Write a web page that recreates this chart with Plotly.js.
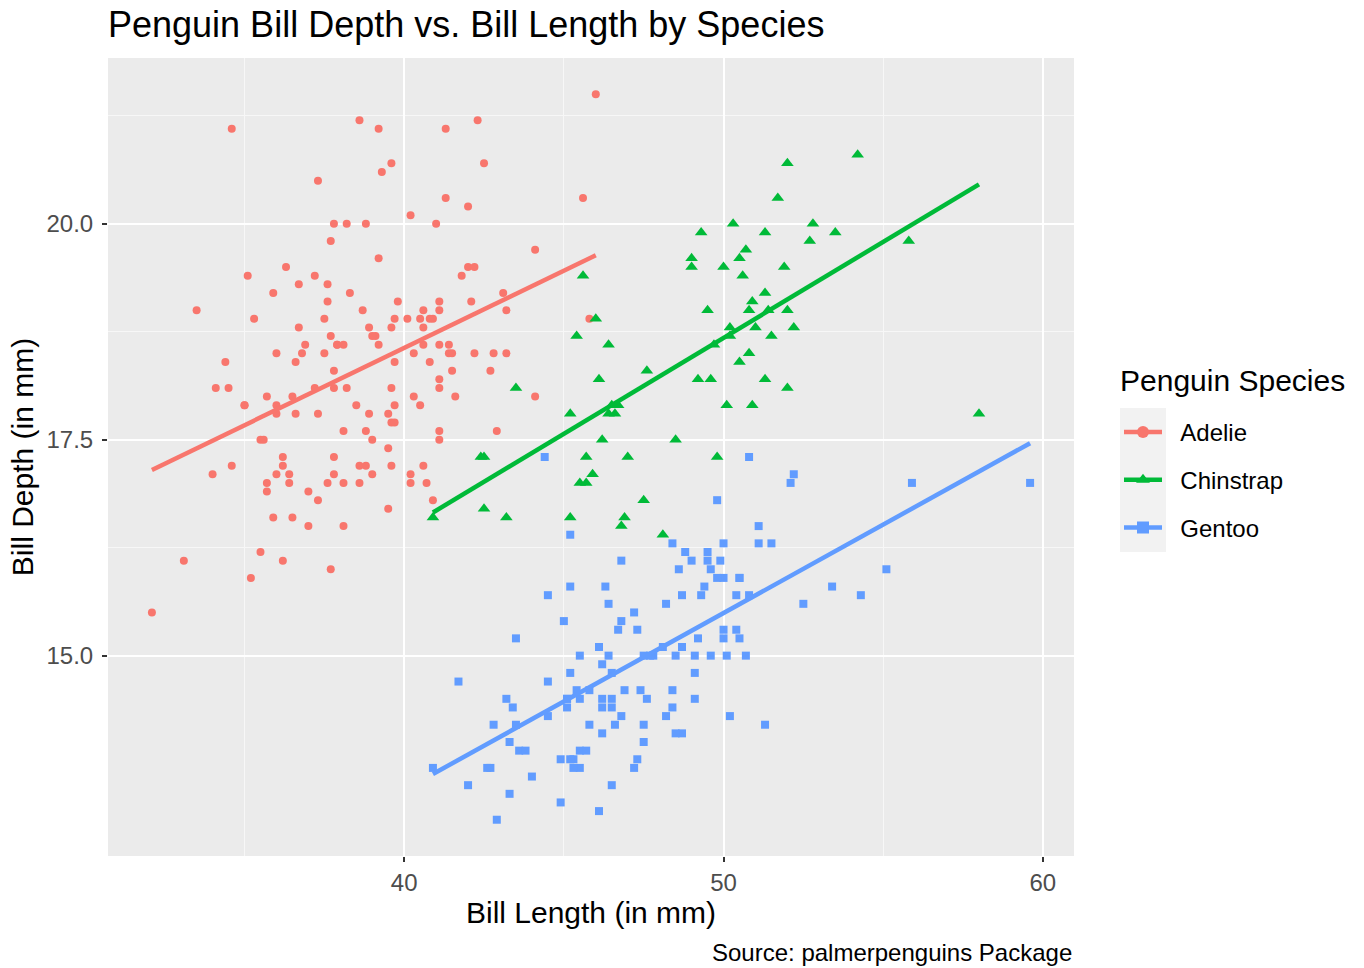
<!DOCTYPE html>
<html>
<head>
<meta charset="utf-8">
<script src="https://cdn.plot.ly/plotly-3.0.1.min.js"></script>
<style>
  html, body { margin: 0; padding: 0; background: #ffffff; }
  #chart { width: 1364px; height: 968px; }
</style>
</head>
<body>
<div id="chart"></div>
<script>
// Palmer penguins: bill length (mm) and bill depth (mm) per species
const speciesNames = ["Adelie", "Chinstrap", "Gentoo"];

const adelieLength = [39.1,39.5,40.3,36.7,39.3,38.9,39.2,34.1,42.0,37.8,37.8,41.1,38.6,34.6,36.6,38.7,42.5,34.4,46.0,37.8,37.7,35.9,38.2,38.8,35.3,40.6,40.5,37.9,40.5,39.5,37.2,39.5,40.9,36.4,39.2,38.8,42.2,37.6,39.8,36.5,40.8,36.0,44.1,37.0,39.6,41.1,37.5,36.0,42.3,39.6,40.1,35.0,42.0,34.5,41.4,39.0,40.6,36.5,37.6,35.7,41.3,37.6,41.1,36.4,41.6,35.5,41.1,35.9,41.8,33.5,39.7,39.6,45.8,35.5,42.8,40.9,37.2,36.2,42.1,34.6,42.9,36.7,35.1,37.3,41.3,36.3,36.9,38.3,38.9,35.7,41.1,34.0,39.6,36.2,40.8,38.1,40.3,33.1,43.2,35.0,41.0,37.7,37.8,37.9,39.7,38.6,38.2,38.1,43.2,38.1,45.6,39.7,42.2,39.6,42.7,38.6,37.3,35.7,41.1,36.2,37.7,40.2,41.4,35.2,40.6,38.8,41.5,39.0,44.1,38.5,43.1,36.8,37.5,38.1,41.1,35.6,40.2,37.0,39.7,40.2,40.6,32.1,40.7,37.3,39.0,39.2,36.6,36.0,37.8,36.0,41.5];
const adelieDepth = [18.7,17.4,18.0,19.3,20.6,17.8,19.6,18.1,20.2,17.1,17.3,17.6,21.2,21.1,17.8,19.0,20.7,18.4,21.5,18.3,18.7,19.2,18.1,17.2,18.9,18.6,17.9,18.6,18.9,16.7,18.1,17.8,18.9,17.0,21.1,20.0,18.5,19.3,19.1,18.0,18.4,18.5,19.7,16.9,18.8,19.0,18.9,17.9,21.2,17.7,18.9,17.9,19.5,18.1,18.6,17.5,18.8,16.6,19.1,16.9,21.1,17.0,18.2,17.1,18.0,16.2,19.1,16.6,19.4,19.0,18.4,17.2,18.9,17.5,18.5,16.8,19.4,16.1,19.1,17.2,17.6,18.8,19.4,17.8,20.3,19.5,18.6,19.2,18.8,18.0,18.1,17.1,18.1,17.3,18.9,18.6,18.5,16.1,18.5,17.9,20.0,16.0,20.0,18.6,18.9,17.2,20.0,17.0,19.0,16.5,20.3,17.7,19.5,20.7,18.3,17.0,20.5,17.0,18.6,17.2,19.8,17.0,18.5,15.9,19.0,17.6,18.3,17.1,18.0,17.9,19.2,18.5,18.5,17.6,17.5,17.5,20.1,16.5,17.9,17.1,17.2,15.5,17.0,16.8,18.7,18.6,18.4,17.8,18.1,17.1,18.5];

const chinstrapLength = [46.5,50.0,51.3,45.4,52.7,45.2,46.1,51.3,46.0,51.3,46.6,51.7,47.0,52.0,45.9,50.5,50.3,58.0,46.4,49.2,42.4,48.5,43.2,50.6,46.7,52.0,50.5,49.5,46.4,52.8,40.9,54.2,42.5,51.0,49.7,47.5,47.6,52.0,46.9,53.5,49.0,46.2,50.9,45.5,50.9,50.8,50.1,49.0,51.5,49.8,48.1,51.4,45.7,50.7,42.5,52.2,45.2,49.3,50.2,45.6,51.9,46.8,45.7,55.8,43.5,49.6,50.8,50.2];
const chinstrapDepth = [17.9,19.5,19.2,18.7,19.8,17.8,18.2,18.2,18.9,19.9,17.8,20.3,17.3,18.1,17.1,19.6,20.0,17.8,18.6,18.2,17.3,17.5,16.6,19.4,17.9,19.0,18.4,19.0,17.8,20.0,16.6,20.8,16.7,18.8,18.6,16.8,18.3,20.7,16.6,19.9,19.5,17.5,19.1,17.0,17.9,18.5,17.9,19.6,18.7,17.3,16.4,19.0,17.3,19.7,17.3,18.8,16.6,19.9,18.8,19.4,19.5,16.5,17.0,19.8,18.1,18.2,19.0,18.7];

const gentooLength = [46.1,50.0,48.7,50.0,47.6,46.5,45.4,46.7,43.3,46.8,40.9,49.0,45.5,48.4,45.8,49.3,42.0,49.2,46.2,48.7,50.2,45.1,46.5,46.3,42.9,46.1,44.5,47.8,48.2,50.0,47.3,42.8,45.1,59.6,49.1,48.4,42.6,44.4,44.0,48.7,42.7,49.6,45.3,49.6,50.5,43.6,45.5,50.5,44.9,45.2,46.6,48.5,45.1,50.1,46.5,45.0,43.8,45.5,43.2,50.4,45.3,46.2,45.7,54.3,45.8,49.8,46.2,49.5,43.5,50.7,47.7,46.4,48.2,46.5,46.4,48.6,47.5,51.1,45.2,45.2,49.1,52.5,47.4,50.0,44.9,50.8,43.4,51.3,47.5,52.1,47.5,52.2,45.5,49.5,44.5,50.8,49.4,46.9,48.4,51.1,48.5,55.9,47.2,49.1,47.3,46.8,41.7,53.4,43.3,48.1,50.5,49.8,43.5,51.5,46.2,55.1,44.5,48.8,47.2,46.8,50.4,45.2,49.9];
const gentooDepth = [13.2,16.3,14.1,15.2,14.5,13.5,14.6,15.3,13.4,15.4,13.7,16.1,13.7,14.6,14.6,15.7,13.5,15.2,14.5,15.1,14.3,14.5,14.5,15.8,13.1,15.1,14.3,15.0,14.3,15.3,15.3,14.2,14.5,17.0,14.8,16.3,13.7,17.3,13.6,15.7,13.7,16.0,13.7,15.0,15.9,13.9,13.9,15.9,13.3,15.8,14.2,14.1,14.4,15.0,14.4,15.4,13.9,15.0,14.5,15.3,13.8,14.9,13.9,15.7,14.2,16.8,14.4,16.2,14.2,15.0,15.0,15.6,15.6,14.8,15.0,16.0,14.2,16.3,13.8,16.4,14.5,15.6,14.6,15.9,13.8,17.3,14.4,14.2,14.0,17.0,15.0,17.1,14.5,16.1,14.7,15.7,15.8,14.6,14.4,16.5,15.0,17.0,15.5,15.0,13.8,16.1,14.7,15.8,14.0,15.1,15.2,15.9,15.2,16.3,14.1,16.0,15.7,16.2,13.7,14.3,15.7,14.8,16.1];

const speciesColors = ["#F8766D", "#00BA38", "#619CFF"];
const speciesSymbols = ["circle", "triangle-up", "square"];

const groups = [
  [adelieLength, adelieDepth],
  [chinstrapLength, chinstrapDepth],
  [gentooLength, gentooDepth]
];

// Least-squares fit of depth on length, evaluated across each species' length range
function fitLine(xs, ys) {
  const n = xs.length;
  const mx = xs.reduce((a, b) => a + b, 0) / n;
  const my = ys.reduce((a, b) => a + b, 0) / n;
  let sxy = 0, sxx = 0;
  for (let i = 0; i < n; i++) {
    sxy += (xs[i] - mx) * (ys[i] - my);
    sxx += (xs[i] - mx) * (xs[i] - mx);
  }
  const slope = sxy / sxx;
  const icpt = my - slope * mx;
  const x0 = Math.min(...xs), x1 = Math.max(...xs);
  return { x: [x0, x1], y: [icpt + slope * x0, icpt + slope * x1] };
}

const traces = [];
groups.forEach((g, i) => {
  traces.push({
    type: "scatter", mode: "markers",
    x: g[0], y: g[1],
    name: speciesNames[i], legendgroup: speciesNames[i], showlegend: false,
    marker: { color: speciesColors[i], symbol: speciesSymbols[i], size: i === 1 ? 11 : 8 },
    hoverinfo: "x+y+name"
  });
});
groups.forEach((g, i) => {
  const f = fitLine(g[0], g[1]);
  traces.push({
    type: "scatter", mode: "lines",
    x: f.x, y: f.y,
    name: speciesNames[i], legendgroup: speciesNames[i], showlegend: false,
    line: { color: speciesColors[i], width: 4.5 },
    hoverinfo: "skip"
  });
});
// Legend keys: the fit line with the species symbol on it
const pad = "\u00A0\u00A0";
groups.forEach((g, i) => {
  traces.push({
    type: "scatter", mode: "lines+markers",
    x: [null], y: [null],
    name: pad + speciesNames[i], legendgroup: speciesNames[i] + "-key", showlegend: true,
    line: { color: speciesColors[i], width: 4.5 },
    marker: { color: speciesColors[i], symbol: speciesSymbols[i], size: 12 }
  });
});

const plotL = 108, plotR = 1074, plotT = 58, plotB = 856;
const px = v => (v - plotL) / (plotR - plotL);
const py = v => (plotB - v) / (plotB - plotT);

const layout = {
  width: 1364, height: 968,
  margin: { l: plotL, r: 1364 - plotR, t: plotT, b: 968 - plotB },
  paper_bgcolor: "#FFFFFF",
  plot_bgcolor: "#EBEBEB",
  font: { family: "Liberation Sans, Arial, sans-serif", color: "#000000" },
  title: {
    text: "Penguin Bill Depth vs. Bill Length by Species",
    font: { size: 36, color: "#000000" },
    x: 0, xanchor: "left", xref: "paper",
    y: 1 - 24 / 968, yanchor: "middle", yref: "container"
  },
  xaxis: {
    range: [30.725, 60.975],
    tickvals: [40, 50, 60], ticktext: ["40", "50", "60"],
    ticks: "outside", ticklen: 5, tickwidth: 2, tickcolor: "#333333",
    tickfont: { size: 24, color: "#4D4D4D" },
    showgrid: true, gridcolor: "#FFFFFF", gridwidth: 2,
    minor: { tickvals: [35, 45, 55], showgrid: true, gridcolor: "#F7F7F7", gridwidth: 1, ticks: "" },
    zeroline: false, showline: false,
    title: { text: "Bill Length (in mm)", font: { size: 30, color: "#000000" }, standoff: 5 }
  },
  yaxis: {
    range: [12.68, 21.92],
    tickvals: [15, 17.5, 20], ticktext: ["15.0", "17.5", "20.0"],
    ticks: "outside", ticklen: 5, tickwidth: 2, tickcolor: "#333333",
    ticklabelstandoff: 4,
    tickfont: { size: 24, color: "#4D4D4D" },
    showgrid: true, gridcolor: "#FFFFFF", gridwidth: 2,
    minor: { tickvals: [16.25, 18.75, 21.25], showgrid: true, gridcolor: "#F7F7F7", gridwidth: 1, ticks: "" },
    zeroline: false, showline: false,
    title: { text: "Bill Depth (in mm)", font: { size: 30, color: "#000000" }, standoff: 3 }
  },
  legend: {
    x: px(1119), xanchor: "left",
    y: py(410), yanchor: "top",
    bgcolor: "rgba(0,0,0,0)",
    font: { size: 24, color: "#000000" },
    tracegroupgap: 13.5,
    itemwidth: 38,
    traceorder: "grouped"
  },
  shapes: [{
    type: "rect", xref: "paper", yref: "paper", layer: "below",
    x0: px(1120), x1: px(1166),
    y0: py(552), y1: py(408),
    fillcolor: "#F2F2F2", line: { width: 0 }
  }],
  annotations: [{
    text: "Penguin Species",
    xref: "paper", yref: "paper",
    x: px(1118), xanchor: "left",
    y: py(380), yanchor: "middle",
    showarrow: false,
    font: { size: 30, color: "#000000" }
  }, {
    text: "Source: palmerpenguins Package",
    xref: "paper", yref: "paper",
    x: 1, xanchor: "right",
    y: py(952), yanchor: "middle",
    showarrow: false,
    font: { size: 24, color: "#000000" }
  }]
};

Plotly.newPlot("chart", traces, layout, { displayModeBar: false, staticPlot: true });
</script>
</body>
</html>
